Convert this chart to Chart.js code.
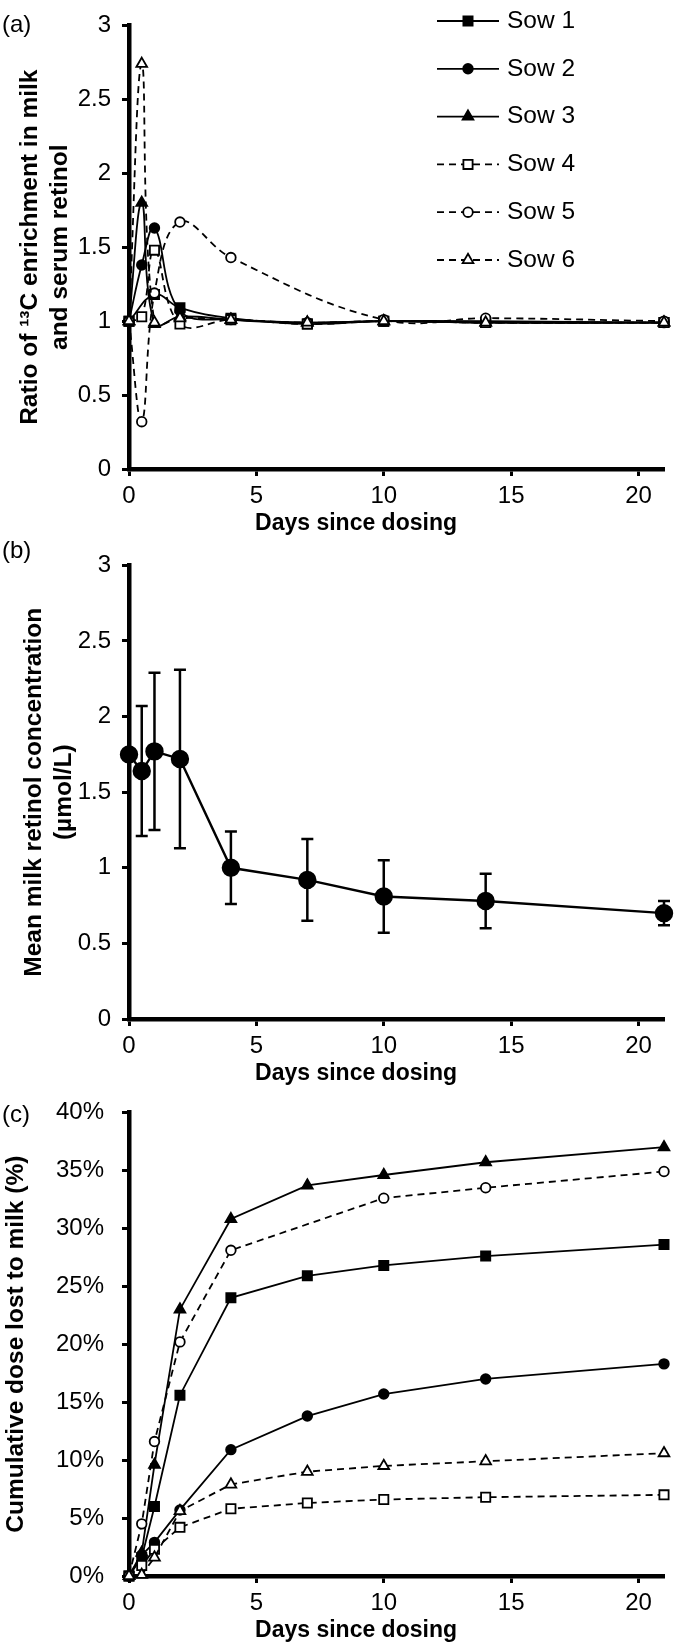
<!DOCTYPE html>
<html>
<head>
<meta charset="utf-8">
<script src="https://cdn.jsdelivr.net/npm/chart.js@4.4.1/dist/chart.umd.min.js"></script>
<style>
  body { margin: 0; background: #fff; width: 680px; height: 1650px; position: relative; overflow: hidden; }
  .panel { position: absolute; left: 0; width: 680px; }
</style>
</head>
<body>
<div class="panel" style="top:0;height:550px"><canvas id="ratioChart"></canvas></div>
<div class="panel" style="top:540px;height:550px"><canvas id="retinolChart"></canvas></div>
<div class="panel" style="top:1080px;height:570px"><canvas id="doseChart"></canvas></div>
<script>
// sampling days and axis ticks
const days = [0, 0.5, 1, 2, 4, 7, 10, 14, 21];
const dayTicks = [0, 5, 10, 15, 20];
const ratioTicks = [0, 0.5, 1, 1.5, 2, 2.5, 3];
const doseTicks = [0, 5, 10, 15, 20, 25, 30, 35, 40];
const sowNames = ['Sow 1', 'Sow 2', 'Sow 3', 'Sow 4', 'Sow 5', 'Sow 6'];

// (a) ratio of 13C enrichment in milk and serum retinol
const ratioSow1 = [1, null, 1.18, 1.09, 1.02, 0.98, 1.0, 0.99, 0.99];
const ratioSow2 = [1, 1.38, 1.63, 1.07, 1.01, 0.99, 1.0, 1.0, 0.99];
const ratioSow3 = [1, 1.80, 0.98, 1.03, 1.01, 0.99, 1.0, 0.99, 0.99];
const ratioSow4 = [1, 1.03, 1.48, 0.98, 1.01, 0.98, 1.0, 0.99, 0.99];
const ratioSow5 = [1, 0.32, 1.19, 1.67, 1.43, null, 1.01, 1.02, 1.0];
const ratioSow6 = [1, 2.74, 0.99, 1.02, 1.01, 0.99, 1.0, 0.99, 0.99];

// (b) mean milk retinol (umol/L) and its error
const meanRetinol = [1.75, 1.64, 1.77, 1.72, 1.00, 0.92, 0.81, 0.78, 0.70];
const retinolErr = [0, 0.43, 0.52, 0.59, 0.24, 0.27, 0.24, 0.18, 0.08];

// (c) cumulative dose lost to milk (%)
const doseSow1 = [0, 1.6, 6.0, 15.6, 24.0, 25.9, 26.8, 27.6, 28.6];
const doseSow2 = [0, 1.8, 2.9, 5.7, 10.9, 13.8, 15.7, 17.0, 18.3];
const doseSow3 = [0, 2.0, 9.6, 23.0, 30.8, 33.7, 34.6, 35.7, 37.0];
const doseSow4 = [0, 0.9, 2.3, 4.2, 5.8, 6.3, 6.6, 6.8, 7.0];
const doseSow5 = [0, 4.5, 11.6, 20.2, 28.1, null, 32.6, 33.5, 34.9];
const doseSow6 = [0, 0.1, 1.6, 5.6, 7.9, 9.0, 9.5, 9.9, 10.6];

const FONT = 'Liberation Sans, Arial, sans-serif';
Chart.defaults.font.family = FONT;
Chart.defaults.font.size = 24;
Chart.defaults.color = '#000';
Chart.defaults.animation = false;

// marker + line look per sow
const sowLook = [
    { style: 'rect', radius: 6.5, fill: '#000', dash: [] },
    { style: 'circle', radius: 4.8, fill: '#000', dash: [] },
    { style: 'triangle', radius: 6.2, fill: '#000', dash: [] },
    { style: 'rect', radius: 6.5, fill: '#fff', dash: [7, 5] },
    { style: 'circle', radius: 4.8, fill: '#fff', dash: [7, 5] },
    { style: 'triangle', radius: 6.2, fill: '#fff', dash: [7, 5] }
];

function sowDataset(i, values, tension) {
    const m = sowLook[i];
    return {
        label: sowNames[i],
        data: days.map((d, k) => ({ x: d, y: values[k] })),
        borderColor: '#000',
        borderWidth: 1.8,
        borderDash: m.dash,
        pointStyle: m.style,
        pointRadius: m.radius,
        pointHoverRadius: m.radius,
        pointBorderWidth: 1.8,
        pointBackgroundColor: m.fill,
        pointBorderColor: '#000',
        tension: tension,
        spanGaps: true,
        clip: false,
        order: 6 - i
    };
}

function xAxis(boxHeight) {
    return {
        type: 'linear', min: 0, max: 21,
        afterBuildTicks: s => { s.ticks = dayTicks.map(v => ({ value: v })); },
        afterFit: s => { s.height = boxHeight; },
        grid: { drawOnChartArea: false, tickLength: 7, tickWidth: 3, tickColor: '#000' },
        border: { color: '#000', width: 4.5 },
        ticks: { padding: 6, maxRotation: 0 },
        title: { display: false }
    };
}

function yAxis(max, tickValues, title, titlePad, labelPad, fmt) {
    return {
        type: 'linear', min: 0, max: max,
        afterBuildTicks: s => { s.ticks = tickValues.map(v => ({ value: v })); },
        afterFit: s => { s.width = 129; },
        grid: { drawOnChartArea: false, tickLength: 7, tickWidth: 3, tickColor: '#000' },
        border: { color: '#000', width: 4.5 },
        ticks: { padding: labelPad, callback: fmt || (v => v) },
        title: { display: true, text: title, font: { weight: 'bold', size: 24.5, lineHeight: 1.2 }, padding: { top: titlePad, bottom: 0 } }
    };
}

// (a)/(b)/(c) corner label and the x title, which sits left of the plot centre
const panelText = {
    id: 'panelText',
    afterDraw(chart, args, opts) {
        const ctx = chart.ctx;
        const area = chart.chartArea;
        ctx.save();
        ctx.fillStyle = '#000';
        ctx.textBaseline = 'middle';
        ctx.font = '24px ' + FONT;
        ctx.textAlign = 'left';
        ctx.fillText(opts.text, 2, area.top + opts.dy);
        ctx.font = 'bold 23px ' + FONT;
        ctx.textAlign = 'center';
        ctx.fillText('Days since dosing', 356, area.bottom + 55);
        ctx.restore();
    }
};

// legend with line sample and marker, drawn inside the plot
function drawMarker(ctx, look, x, y) {
    ctx.beginPath();
    if (look.style === 'rect') {
        const h = look.radius * Math.SQRT1_2;
        ctx.rect(x - h, y - h, 2 * h, 2 * h);
    } else if (look.style === 'circle') {
        ctx.arc(x, y, look.radius, 0, Math.PI * 2);
    } else {
        const r = look.radius;
        ctx.moveTo(x, y - r);
        ctx.lineTo(x + r * Math.cos(Math.PI / 6), y + r / 2);
        ctx.lineTo(x - r * Math.cos(Math.PI / 6), y + r / 2);
        ctx.closePath();
    }
    ctx.fillStyle = look.fill;
    ctx.fill();
    ctx.lineWidth = 1.8;
    ctx.strokeStyle = '#000';
    ctx.stroke();
}

const sowLegend = {
    id: 'sowLegend',
    afterDraw(chart, args, opts) {
        if (!opts.show) return;
        const ctx = chart.ctx;
        ctx.save();
        sowNames.forEach((name, i) => {
            const y = opts.top + i * opts.step;
            ctx.strokeStyle = '#000';
            ctx.lineWidth = 1.8;
            ctx.setLineDash(sowLook[i].dash);
            ctx.beginPath();
            ctx.moveTo(opts.x1, y);
            ctx.lineTo(opts.x2, y);
            ctx.stroke();
            ctx.setLineDash([]);
            drawMarker(ctx, sowLook[i], (opts.x1 + opts.x2) / 2, y);
            ctx.font = '24.5px ' + FONT;
            ctx.fillStyle = '#000';
            ctx.textBaseline = 'middle';
            ctx.fillText(name, opts.textX, y);
        });
        ctx.restore();
    }
};

// error bars for panel (b)
const errorBars = {
    id: 'errorBars',
    beforeDatasetsDraw(chart, args, opts) {
        if (!opts.errors) return;
        const ctx = chart.ctx;
        const xs = chart.scales.x, ys = chart.scales.y;
        ctx.save();
        ctx.strokeStyle = '#000';
        ctx.lineWidth = 2.5;
        days.forEach((d, i) => {
            const e = opts.errors[i];
            if (!e) return;
            const x = xs.getPixelForValue(d);
            const top = ys.getPixelForValue(opts.means[i] + e);
            const bot = ys.getPixelForValue(opts.means[i] - e);
            ctx.beginPath();
            ctx.moveTo(x, top); ctx.lineTo(x, bot);
            ctx.moveTo(x - 6, top); ctx.lineTo(x + 6, top);
            ctx.moveTo(x - 6, bot); ctx.lineTo(x + 6, bot);
            ctx.stroke();
        });
        ctx.restore();
    }
};

Chart.register(panelText, sowLegend, errorBars);

const commonPlugins = {
    legend: { display: false },
    tooltip: { enabled: false }
};

// 1. ratio chart
new Chart(document.getElementById('ratioChart'), {
    type: 'line',
    data: {
        datasets: [
            sowDataset(0, ratioSow1, 0.4),
            sowDataset(1, ratioSow2, 0.4),
            sowDataset(2, ratioSow3, 0.4),
            sowDataset(3, ratioSow4, 0.4),
            sowDataset(4, ratioSow5, 0.4),
            sowDataset(5, ratioSow6, 0.4)
        ]
    },
    options: {
        responsive: true,
        maintainAspectRatio: false,
        layout: { padding: { top: 15, right: 16, bottom: 13, left: 0 } },
        scales: {
            x: xAxis(68),
            y: yAxis(3, ratioTicks, ['Ratio of \u00b9\u00b3C enrichment in milk', 'and serum retinol'], 16, 11)
        },
        plugins: Object.assign({}, commonPlugins, {
            panelText: { text: '(a)', dy: 0 },
            sowLegend: { show: true, top: 21, step: 47.8, x1: 437, x2: 499, textX: 507 }
        })
    }
});

// 2. mean milk retinol chart
new Chart(document.getElementById('retinolChart'), {
    type: 'line',
    data: {
        datasets: [{
            label: 'Mean milk retinol',
            data: days.map((d, k) => ({ x: d, y: meanRetinol[k] })),
            borderColor: '#000',
            borderWidth: 2.4,
            pointStyle: 'circle',
            pointRadius: 8,
            pointHoverRadius: 8,
            pointBackgroundColor: '#000',
            pointBorderColor: '#000',
            tension: 0,
            clip: false
        }]
    },
    options: {
        responsive: true,
        maintainAspectRatio: false,
        layout: { padding: { top: 20, right: 16, bottom: 3, left: 0 } },
        scales: {
            x: xAxis(68),
            y: yAxis(3, ratioTicks, ['Mean milk retinol concentration', '(\u00b5mol/L)'], 20, 11)
        },
        plugins: Object.assign({}, commonPlugins, {
            panelText: { text: '(b)', dy: -14 },
            errorBars: { errors: retinolErr, means: meanRetinol }
        })
    }
});

// 3. cumulative dose chart
new Chart(document.getElementById('doseChart'), {
    type: 'line',
    data: {
        datasets: [
            sowDataset(0, doseSow1, 0),
            sowDataset(1, doseSow2, 0),
            sowDataset(2, doseSow3, 0),
            sowDataset(3, doseSow4, 0),
            sowDataset(4, doseSow5, 0),
            sowDataset(5, doseSow6, 0)
        ]
    },
    options: {
        responsive: true,
        maintainAspectRatio: false,
        layout: { padding: { top: 17, right: 16, bottom: 6, left: 0 } },
        scales: {
            x: xAxis(68),
            y: yAxis(40, doseTicks, 'Cumulative dose lost to milk (%)', 2, 18, v => v + '%')
        },
        plugins: Object.assign({}, commonPlugins, {
            panelText: { text: '(c)', dy: 3 }
        })
    }
});
</script>
</body>
</html>
